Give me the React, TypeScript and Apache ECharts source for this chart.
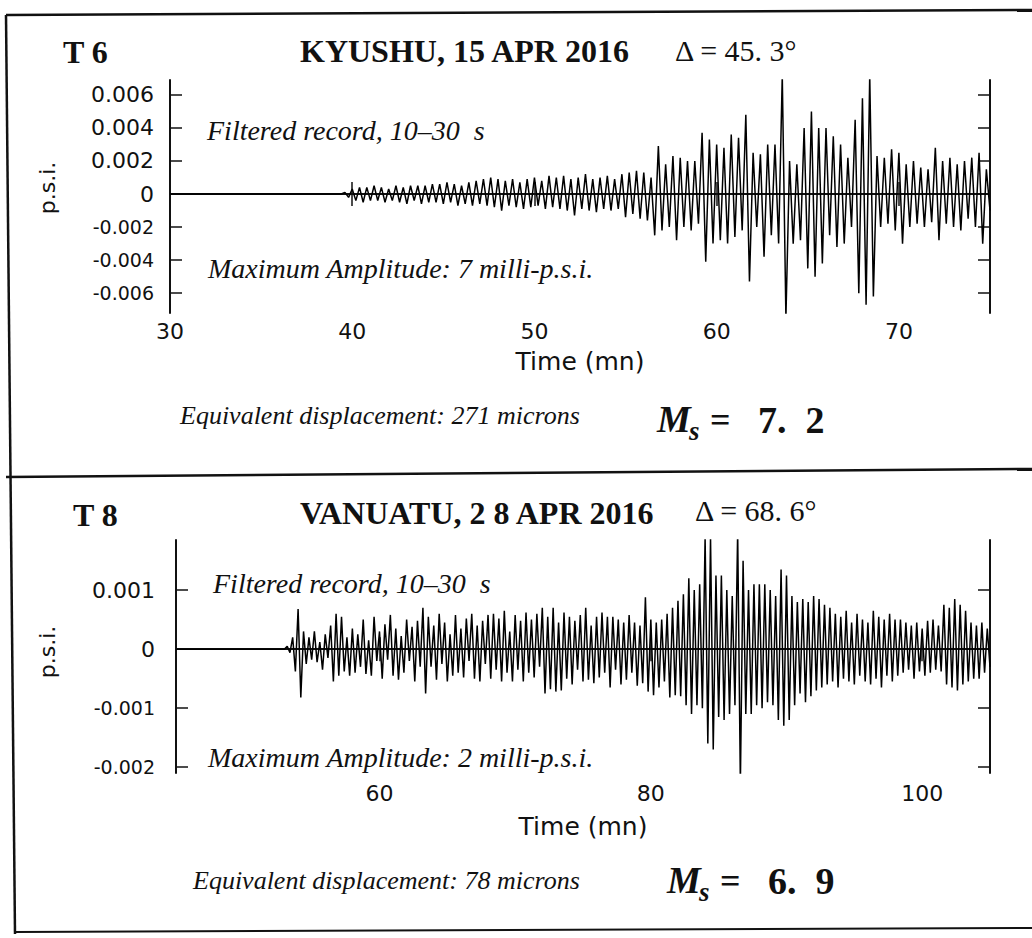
import React, { useEffect, useRef } from "react";
import * as echarts from "echarts";

// ---------- data (read from the scanned record) ----------
const PEAK_STEP = 0.2; // minutes between successive peaks of the filtered trace

// T6 KYUSHU: quiet trace (value 0) then alternating peaks, unit 1e-4 p.s.i.
const t6Quiet = [30, 39.4];
const T6_START = 39.6;
const t6Peaks = [
  1, -2, 3, -4, 4,
  -5, 4, -4, 5, -4,
  4, -5, 3, -4, 5,
  -5, 4, -6, 5, -4,
  5, -6, 5, -5, 6,
  -5, 6, -6, 7, -5,
  6, -7, 5, -6, 7,
  -7, 8, -6, 9, -7,
  10, -8, 9, -10, 8,
  -7, 9, -8, 7, -9,
  9, -8, 10, -7, 8,
  -9, 11, -8, 10, -9,
  11, -10, 9, -13, 10,
  -9, 12, -10, 9, -11,
  10, -9, 11, -10, 9,
  -9, 12, -14, 13, -12,
  14, -15, 13, -16, 10,
  -25, 29, -22, 18, -20,
  23, -28, 22, -20, 20,
  -22, 20, -18, 37, -41,
  33, -30, 30, -28, 28,
  -30, 36, -26, 34, -22,
  48, -53, 25, -20, 24,
  -38, 30, -25, 30, -30,
  72, -75, 20, -30, 18,
  -28, 40, -45, 50, -50,
  40, -42, 40, -25, 35,
  -32, 30, -30, 22, -20,
  45, -60, 58, -67, 72,
  -62, 23, -20, 22, -18,
  27, -22, 25, -30, 18,
  -20, 20, -18, 16, -20,
  15, -17, 28, -28, 20,
  -18, 22, -20, 18, -22,
  20, -15, 22, -20, 25,
  -30, 15, -10,
];

// T8 VANUATU: quiet trace then alternating peaks, unit 1e-5 p.s.i.
const t8Quiet = [45, 53.0];
const T8_START = 53.2;
const t8Peaks = [
  5, -6, 20, -38, 68,
  -82, 30, -25, 20, -18,
  30, -22, 12, -35, 25,
  -15, 40, -55, 60, -45,
  55, -38, 20, -45, 35,
  -40, 25, -30, 50, -42,
  15, -45, 55, -20, 30,
  -50, 42, -18, 58, -45,
  35, -52, 22, -40, 50,
  -20, 38, -55, 48, -30,
  70, -75, 55, -30, 40,
  -52, 60, -25, 45, -55,
  25, -45, 58, -40, 35,
  -48, 52, -20, 60, -50,
  40, -55, 48, -25, 58,
  -50, 60, -35, 52, -55,
  65, -40, 30, -55, 58,
  -35, 48, -55, 62, -40,
  50, -48, 60, -30, 70,
  -75, 55, -68, 70, -72,
  45, -70, 62, -50, 55,
  -60, 48, -35, 58, -55,
  70, -52, 40, -58, 55,
  -48, 62, -40, 55, -65,
  55, -35, 50, -60, 45,
  -52, 58, -40, 45, -62,
  40, -58, 88, -72, 50,
  -78, 45, -65, 50, -55,
  60, -82, 70, -78, 82,
  -80, 93, -95, 120, -110,
  100, -95, 110, -100, 190,
  -160, 190, -170, 125, -115,
  125, -120, 100, -110, 90,
  -95, 200, -230, 150, -110,
  100, -110, 110, -95, 110,
  -100, 110, -90, 100, -95,
  90, -120, 135, -130, 125,
  -120, 90, -95, 80, -75,
  85, -90, 80, -80, 90,
  -70, 85, -65, 75, -60,
  70, -55, 60, -65, 55,
  -50, 65, -55, 45, -60,
  60, -45, 50, -55, 45,
  -60, 65, -50, 55, -65,
  50, -45, 60, -55, 50,
  -45, 50, -40, 45, -35,
  40, -50, 45, -38, 35,
  -45, 48, -40, 50, -35,
  40, -38, 75, -60, 70,
  -65, 85, -70, 75, -60,
  65, -55, 45, -50, 40,
  -50, 45, -40, 35, -30,
];

// axes
const t6XRange = [30, 75];
const t6XLabels = [30, 40, 50, 60, 70];
const t6XTicks = [40, 50, 60, 70];
const t6YRange = [-0.0072, 0.0069];
const t6YTicks = [-0.006, -0.004, -0.002, 0, 0.002, 0.004, 0.006];

const t8XRange = [45, 105];
const t8XTicks = [60, 80, 100];
const t8YRange = [-0.0021, 0.00185];
const t8YTicks = [-0.002, -0.001, 0, 0.001];

// ---------- helpers ----------
const INK = "#111";
const SANS = '"DejaVu Sans", sans-serif';
const SERIF = '"Liberation Serif", "DejaVu Serif", serif';

const buildTrace = (quiet: number[], start: number, peaks: number[], unit: number) => [
  ...quiet.map((t) => [t, 0]),
  ...peaks.map((p, i) => [+(start + i * PEAK_STEP).toFixed(2), p * unit]),
];

const yFmt = (v: number) => {
  if (Math.abs(v) < 1e-12) return "0";
  const s = v.toFixed(3);
  return v < 0 ? `{n|${s}}` : s;
};

const txt = (x: number, y: number, text: string, font: string, extra: any = {}) => ({
  type: "text",
  x,
  y,
  silent: true,
  ...extra,
  style: { text, font, fill: INK, textAlign: "left", textVerticalAlign: "middle", ...(extra.style || {}) },
});

const ln = (x1: number, y1: number, x2: number, y2: number, w = 2.5) => ({
  type: "line",
  silent: true,
  shape: { x1, y1, x2, y2 },
  style: { stroke: INK, lineWidth: w },
});

const makeAxes = (gi: number, xr: number[], yr: number[], xTicks: number[], xLabels: number[], yTicks: number[], yMargin: number, xMargin: number, nameGap: number) => {
  const x = [
    {
      type: "value", gridIndex: gi, min: xr[0], max: xr[1], position: "bottom",
      name: "Time (mn)", nameLocation: "middle", nameGap,
      nameTextStyle: { fontFamily: SANS, fontSize: 25, color: INK },
      axisLine: { show: true, lineStyle: { color: INK, width: 2 } },
      axisTick: { show: true, inside: true, length: 12, customValues: xTicks, lineStyle: { color: INK, width: 1.5 } },
      axisLabel: { show: true, customValues: xLabels, showMinLabel: true, margin: xMargin, fontFamily: SANS, fontSize: 22, color: INK },
      splitLine: { show: false },
    },
    {
      type: "value", gridIndex: gi, min: xr[0], max: xr[1], position: "top",
      axisLine: { show: true, lineStyle: { color: INK, width: 2 } },
      axisTick: { show: true, inside: true, length: 12, customValues: xTicks, lineStyle: { color: INK, width: 1.5 } },
      axisLabel: { show: false },
      splitLine: { show: false },
    },
  ];
  const y = [
    {
      type: "value", gridIndex: gi, min: yr[0], max: yr[1], position: "left",
      axisLine: { show: true, lineStyle: { color: INK, width: 2 } },
      axisTick: { show: true, inside: true, length: 12, customValues: yTicks, lineStyle: { color: INK, width: 1.5 } },
      axisLabel: {
        show: true, customValues: yTicks, margin: yMargin, formatter: yFmt,
        fontFamily: SANS, fontSize: 22, color: INK,
        rich: { n: { fontFamily: SANS, fontSize: 19, color: INK } },
      },
      splitLine: { show: false },
    },
    {
      type: "value", gridIndex: gi, min: yr[0], max: yr[1], position: "right",
      axisLine: { show: true, lineStyle: { color: INK, width: 2 } },
      axisTick: { show: true, inside: true, length: 12, customValues: yTicks, lineStyle: { color: INK, width: 1.5 } },
      axisLabel: { show: false },
      splitLine: { show: false },
    },
  ];
  return { x, y };
};

export default function App() {
  const ref = useRef<HTMLDivElement>(null);

  useEffect(() => {
    document.body.style.margin = "0";
    if (!ref.current) return;
    const chart = echarts.init(ref.current, undefined, { renderer: "svg" });

    const a1 = makeAxes(0, t6XRange, t6YRange, t6XTicks, t6XLabels, t6YTicks, 16, 7, 36);
    const a2 = makeAxes(1, t8XRange, t8YRange, t8XTicks, t8XTicks, t8YTicks, 21, 9, 41);

    const bold = (s: number) => `bold ${s}px ${SERIF}`;
    const ital = (s: number) => `italic ${s}px ${SERIF}`;
    const bi = (s: number) => `italic bold ${s}px ${SERIF}`;
    const reg = (s: number) => `${s}px ${SERIF}`;

    const graphic: any[] = [
      // frame of the scanned sheet
      ln(6, 15, 1032, 10),
      ln(6, 15, 15, 934),
      ln(6, 477, 1032, 469),
      ln(15, 932, 1032, 928, 2),
      // panel 1 texts
      txt(63, 52, "T 6", bold(32)),
      txt(300, 51, "KYUSHU, 15 APR 2016", bold(32)),
      txt(675, 50, "\u0394 = 45. 3\u00b0", reg(30)),
      txt(207, 130, "Filtered record, 10\u201330  s", ital(28)),
      txt(208, 268, "Maximum Amplitude: 7 milli-p.s.i.", ital(28)),
      txt(180, 415, "Equivalent displacement: 271 microns", ital(26)),
      txt(657, 419, "M", bi(38)),
      txt(689, 431, "s", bi(27)),
      txt(710, 420, "=", bold(36)),
      txt(758, 420, "7.  2", bold(38)),
      txt(47, 188, "p.s.i.", `22px ${SANS}`, { rotation: Math.PI / 2, style: { textAlign: "center" } }),
      // panel 2 texts
      txt(73, 515, "T 8", bold(32)),
      txt(300, 513, "VANUATU, 2 8 APR 2016", bold(32)),
      txt(695, 510, "\u0394 = 68. 6\u00b0", reg(30)),
      txt(213, 583, "Filtered record, 10\u201330  s", ital(28)),
      txt(208, 757, "Maximum Amplitude: 2 milli-p.s.i.", ital(28)),
      txt(193, 880, "Equivalent displacement: 78 microns", ital(26)),
      txt(667, 880, "M", bi(38)),
      txt(699, 892, "s", bi(27)),
      txt(720, 881, "=", bold(36)),
      txt(768, 881, "6.  9", bold(38)),
      txt(47, 652, "p.s.i.", `22px ${SANS}`, { rotation: Math.PI / 2, style: { textAlign: "center" } }),
    ];

    chart.setOption({
      animation: false,
      backgroundColor: "#fff",
      grid: [
        { left: 170, top: 80, width: 820, height: 233 },
        { left: 176, top: 540, width: 814, height: 233 },
      ],
      xAxis: [...a1.x, ...a2.x],
      yAxis: [...a1.y, ...a2.y],
      series: [
        {
          type: "line", xAxisIndex: 0, yAxisIndex: 0, showSymbol: false, clip: true,
          lineStyle: { color: "#000", width: 1.5 },
          data: buildTrace(t6Quiet, T6_START, t6Peaks, 1e-4),
        },
        {
          type: "line", xAxisIndex: 2, yAxisIndex: 2, showSymbol: false, clip: true,
          lineStyle: { color: "#000", width: 1.5 },
          data: buildTrace(t8Quiet, T8_START, t8Peaks, 1e-5),
        },
      ],
      graphic,
    });

    return () => chart.dispose();
  }, []);

  return <div ref={ref} style={{ width: 1032, height: 938 }} />;
}
